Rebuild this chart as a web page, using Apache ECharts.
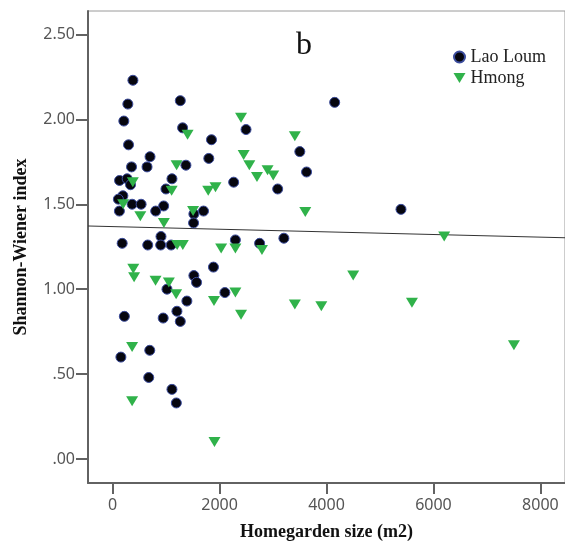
<!DOCTYPE html>
<html>
<head>
<meta charset="utf-8">
<script src="https://cdn.jsdelivr.net/npm/echarts@6/dist/echarts.min.js"></script>
<style>
  html, body { margin: 0; padding: 0; background: #fff; }
  #chart { width: 565px; height: 546px; }
</style>
</head>
<body>
<div id="chart"></div>
<script>
// Homegarden size (m2) vs Shannon-Wiener index, per household group
const laoLoumSize = [380, 285, 210, 1266, 1309, 298, 1849, 700, 1799, 354, 644, 1371, 130, 272, 335,
  1110, 998, 192, 108, 365, 533, 955, 806, 127, 1520, 1514, 1700, 905, 179, 657, 899, 1095, 2296,
  2749, 3203, 2495, 3501, 3627, 2264, 3087, 4153, 5393, 1886, 1520, 1570, 1017, 2100, 1389, 1203,
  220, 946, 1266, 695, 155, 676, 1110, 1192];
const laoLoumShannon = [2.23, 2.09, 1.99, 2.11, 1.95, 1.85, 1.88, 1.78, 1.77, 1.72, 1.72, 1.73, 1.64,
  1.65, 1.615, 1.65, 1.59, 1.55, 1.53, 1.50, 1.50, 1.49, 1.46, 1.46, 1.443, 1.39, 1.46, 1.31, 1.27,
  1.26, 1.26, 1.26, 1.29, 1.27, 1.30, 1.94, 1.81, 1.69, 1.63, 1.59, 2.10, 1.47, 1.13, 1.08, 1.04,
  1.00, 0.98, 0.93, 0.87, 0.84, 0.83, 0.81, 0.64, 0.60, 0.48, 0.41, 0.33];

const hmongSize = [2402, 1402, 3408, 2451, 2557, 2700, 2898, 3004, 1197, 378, 1104, 1788, 1924, 197,
  518, 1505, 959, 3603, 1207, 1313, 2030, 2296, 2793, 6201, 387, 402, 803, 1052, 1188, 1896, 2296,
  2402, 3408, 3903, 365, 365, 1905, 4499, 5598, 7505];
const hmongShannon = [2.01, 1.91, 1.90, 1.79, 1.73, 1.66, 1.70, 1.67, 1.73, 1.63, 1.58, 1.58, 1.60,
  1.50, 1.43, 1.46, 1.39, 1.455, 1.26, 1.26, 1.24, 1.24, 1.23, 1.31, 1.12, 1.07, 1.05, 1.04, 0.97,
  0.93, 0.98, 0.85, 0.91, 0.90, 0.66, 0.34, 0.10, 1.08, 0.92, 0.67];

// Linear fit of index on size (all households)
const fitIntercept = 1.3685;
const fitSlope = -0.00000777;

const xTicks = [0, 2000, 4000, 6000, 8000];
const yTicks = [0, 0.5, 1.0, 1.5, 2.0, 2.5];
const seriesNames = ['Lao Loum', 'Hmong'];

const xMin = -460, xMax = 8460;
const yMin = -0.1413, yMax = 2.638;

const pairs = (xs, ys) => xs.map((x, i) => [x, ys[i]]);

const axisGray = '#626262';
const labelFont = { fontFamily: 'Noto Sans', fontSize: 16, color: '#555' };
const nameFont = { fontFamily: 'Liberation Serif', fontSize: 18, fontWeight: 'bold', color: '#111' };

const chart = echarts.init(document.getElementById('chart'), null, { renderer: 'canvas' });
chart.setOption({
  animation: false,
  backgroundColor: '#fff',
  title: {
    text: 'b', left: 291, top: 25,
    textStyle: { fontFamily: 'Liberation Serif', fontSize: 32, fontWeight: 'normal', color: '#111' }
  },
  legend: {
    orient: 'vertical', left: 448, top: 43,
    itemWidth: 12, itemHeight: 11, itemGap: 3,
    textStyle: { fontFamily: 'Liberation Serif', fontSize: 18, color: '#222' },
    data: [
      { name: seriesNames[0], icon: 'circle' },
      { name: seriesNames[1], icon: 'path://M0,0L12,0L6,10Z' }
    ]
  },
  grid: {
    left: 88, right: -2, top: 11, bottom: 63,
    show: true, borderColor: '#9a9a9a', borderWidth: 1
  },
  xAxis: {
    type: 'value', min: xMin, max: xMax,
    name: 'Homegarden size (m2)', nameLocation: 'middle', nameGap: 40,
    nameTextStyle: nameFont,
    axisLine: { show: true, onZero: false, lineStyle: { color: axisGray, width: 2 } },
    axisTick: { show: true, length: 11, customValues: xTicks, lineStyle: { color: axisGray, width: 2 } },
    axisLabel: { customValues: xTicks, margin: 14, ...labelFont, formatter: v => String(v) },
    splitLine: { show: false }
  },
  yAxis: {
    type: 'value', min: yMin, max: yMax,
    name: 'Shannon-Wiener index', nameLocation: 'middle', nameGap: 58,
    nameTextStyle: nameFont,
    axisLine: { show: true, onZero: false, lineStyle: { color: axisGray, width: 2 } },
    axisTick: { show: true, length: 12, customValues: yTicks, lineStyle: { color: axisGray, width: 2 } },
    axisLabel: {
      customValues: yTicks, margin: 13, ...labelFont,
      formatter: v => v.toFixed(2).replace(/^0/, '')
    },
    splitLine: { show: false }
  },
  series: [
    {
      name: 'fit', type: 'line', silent: true, z: 1,
      symbol: 'none',
      lineStyle: { color: '#333', width: 1 },
      data: [[xMin, fitIntercept + fitSlope * xMin], [xMax, fitIntercept + fitSlope * xMax]]
    },
    {
      name: seriesNames[0], type: 'scatter', z: 3,
      symbol: 'circle', symbolSize: 10,
      itemStyle: { color: '#06060f', borderColor: '#3c4d9e', borderWidth: 1, opacity: 1 },
      data: pairs(laoLoumSize, laoLoumShannon)
    },
    {
      name: seriesNames[1], type: 'scatter', z: 4,
      symbol: 'triangle', symbolRotate: 180, symbolSize: [12, 10],
      itemStyle: { color: '#30b24a', opacity: 1 },
      data: pairs(hmongSize, hmongShannon)
    }
  ]
});
</script>
</body>
</html>
